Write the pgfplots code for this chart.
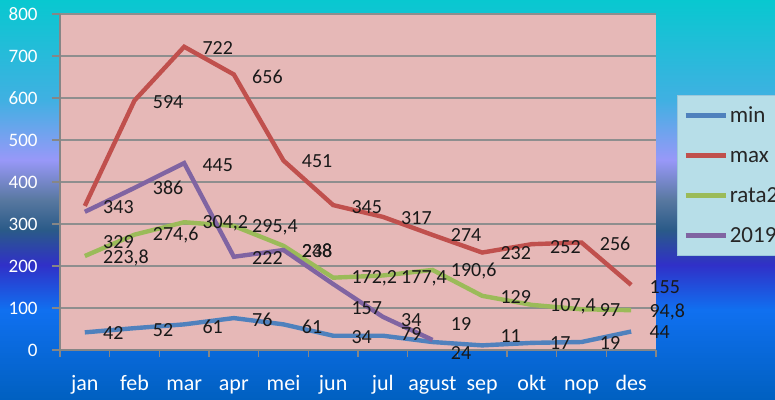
\documentclass[border=0pt]{standalone}
\usepackage{pgfplots}
\pgfplotsset{compat=1.18}
\usepackage{pgfplotstable}
\usepackage{fontspec}
\setmainfont{Carlito}

\definecolor{cmin}{HTML}{4F81BD}
\definecolor{cmax}{HTML}{C0504D}
\definecolor{crata}{HTML}{9BBB59}
\definecolor{cnew}{HTML}{8064A2}
\definecolor{plotbg}{HTML}{E6B8B7}
\definecolor{gridgray}{HTML}{8E8E8E}
\definecolor{axgray}{HTML}{868686}
\definecolor{legbg}{HTML}{B7DEE8}
\definecolor{legdraw}{HTML}{9CC8DA}
\definecolor{bgA}{HTML}{08C8D0}
\definecolor{bgB}{HTML}{40B0E2}
\definecolor{bgC}{HTML}{9898F8}
\definecolor{bgD}{HTML}{5878A0}
\definecolor{bgE}{HTML}{2A5A88}
\definecolor{bgF}{HTML}{3030C8}
\definecolor{bgG}{HTML}{1070F0}
\definecolor{bgH}{HTML}{0060C0}

\pgfdeclareverticalshading{bgshade}{100bp}{color(0bp)=(bgH); color(25bp)=(bgH); color(36.25bp)=(bgG); color(41.9bp)=(bgF); color(46.25bp)=(bgE); color(50bp)=(bgD); color(55bp)=(bgC); color(62.5bp)=(bgB); color(75bp)=(bgA); color(100bp)=(bgA)}

\pgfplotstableread{
x y dy lab
0 42 -0.5 42
1 52 -1 52
2 61 -1 61
3 76 -1 76
4 61 -1 61
5 34 -0.5 34
6 34 8 34
7 19 9 19
8 11 4.5 11
9 17 0 17
10 19 -0.5 19
11 44 -0.5 44
}\tmin

\pgfplotstableread{
x y dy lab
0 343 -0.5 343
1 594 -1 594
2 722 -0.5 722
3 656 -1 656
4 451 -0.5 451
5 345 -1 345
6 317 -0.5 317
7 274 0 274
8 232 -0.5 232
9 252 -1.5 252
10 256 -0.5 256
11 155 -1 155
}\tmax

\pgfplotstableread{
x y dy lab
0 223.8 -1 223,8
1 274.6 0 274,6
2 304.2 -0.5 304,2
3 295.4 -0.5 295,4
4 248 -2.5 248
5 172.2 -0.5 172,2
6 177.4 -1.2 177,4
7 190.6 -0.5 190,6
8 129 -0.5 129
9 107.4 -0.5 107,4
10 97 -0.5 97
11 94.8 -1 94,8
}\trata

\pgfplotstableread{
x y dy lab
0 329 -15 329
1 386 0 386
2 445 -1 445
3 222 -0.5 222
4 238 -0.5 238
5 157 -12 157
6 79 -8.5 79
7 24 -6.5 24
}\tnew

\newcommand{\labfont}{\fontsize{10bp}{12bp}\selectfont}

\pgfplotsset{
  lab/.style={
    forget plot, draw=none, mark=none,
    nodes near coords,
    point meta=explicit symbolic,
    visualization depends on={\thisrow{dy} \as \labdy},
    nodes near coords style={anchor=west, inner sep=0pt, xshift=9bp, yshift=\labdy, font=\labfont, text=black!90},
  },
}

\begin{document}
\begin{tikzpicture}
\useasboundingbox (0,0) rectangle (387.5bp,200bp);
\clip (0,0) rectangle (387.5bp,200bp);
\shade[shading=bgshade] (0,0) rectangle (387.5bp,200bp);
\begin{axis}[
  at={(30bp,25bp)}, anchor=south west,
  scale only axis, width=298bp, height=168bp,
  xmin=-0.5, xmax=11.5, ymin=0, ymax=800,
  xtick={0,...,11},
  xticklabels={jan,feb,mar,apr,mei,jun,jul,agust,sep,okt,nop,des},
  minor xtick={-0.5,0.5,...,11.5},
  ytick={0,100,...,800},
  major x tick style={draw=none},
  tick align=outside, tick pos=left,
  major tick length=4bp, minor tick length=3.5bp,
  tick style={draw=axgray, line width=0.75bp},
  axis x line*=bottom, axis y line*=left,
  axis line style={draw=axgray, line width=0.75bp, -},
  axis background/.style={fill=plotbg},
  ymajorgrids, major y grid style={draw=gridgray, line width=0.7bp},
  /pgf/number format/assume math mode=true,
  xticklabel style={font=\fontsize{11bp}{13bp}\selectfont, text=white, anchor=base, yshift=-16bp},
  yticklabel style={font=\fontsize{9.5bp}{11bp}\selectfont, text=white, anchor=east, inner sep=0pt, xshift=-7bp},
  legend style={at={(axis description cs:1.035,0.759)}, anchor=north west,
    fill=legbg, draw=legdraw, line width=0.5bp,
    font=\fontsize{11.5bp}{13bp}\selectfont, text=black!85,
    inner xsep=3bp, inner ysep=5.5bp, row sep=11bp,
    nodes={inner sep=1bp, text height=7bp, text depth=0pt},
    legend cell align=left},
  legend image code/.code={\draw[#1, line width=2.2bp] (0bp,0bp) -- (20bp,0bp);},
]
\addplot[cmin, line width=2.2bp] table[x=x, y=y] {\tmin};
\addlegendentry{min}
\addplot[cmax, line width=2.2bp] table[x=x, y=y] {\tmax};
\addlegendentry{max}
\addplot[crata, line width=2.2bp] table[x=x, y=y] {\trata};
\addlegendentry{rata2}
\addplot[cnew, line width=2.2bp] table[x=x, y=y] {\tnew};
\addlegendentry{2019}
\addplot[lab] table[x=x, y=y, meta=lab] {\tmin};
\addplot[lab] table[x=x, y=y, meta=lab] {\tmax};
\addplot[lab] table[x=x, y=y, meta=lab] {\trata};
\addplot[lab] table[x=x, y=y, meta=lab] {\tnew};
\end{axis}
\end{tikzpicture}
\end{document}
